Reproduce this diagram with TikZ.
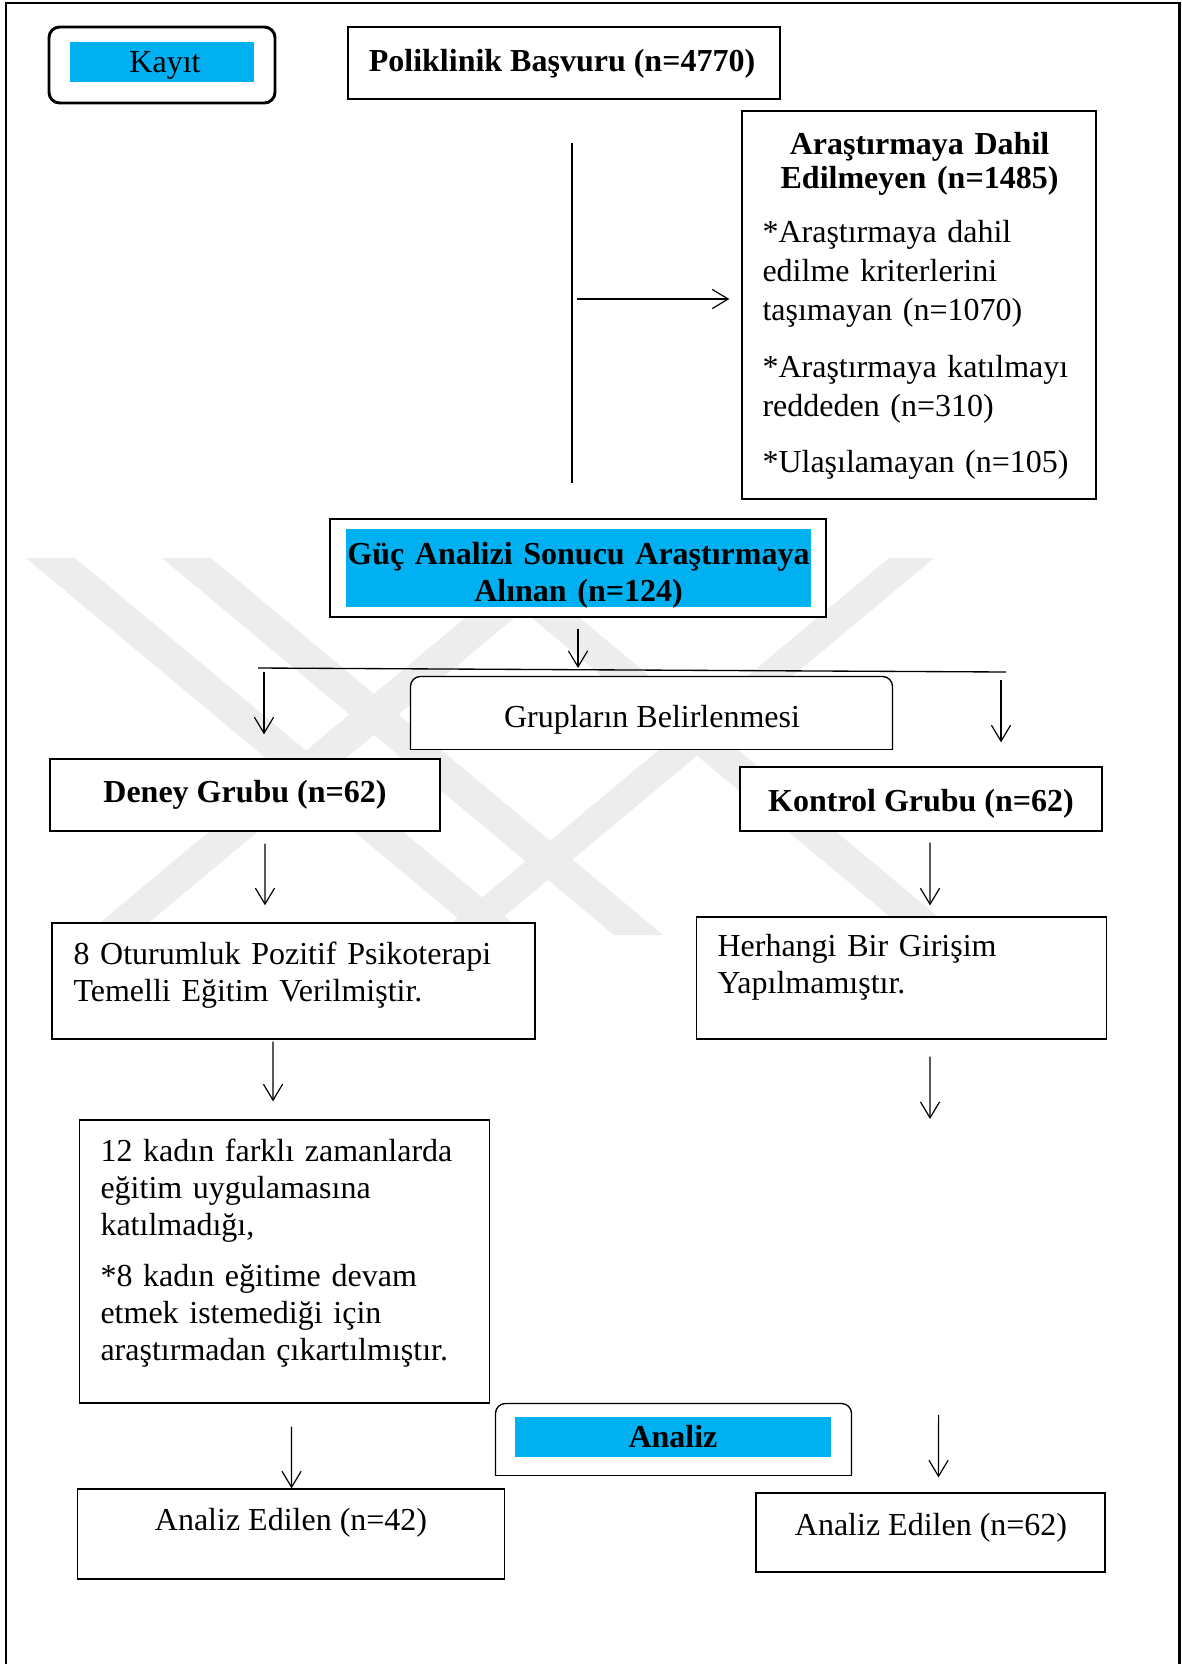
\documentclass[tikz,border=0pt]{standalone}
\usepackage{fontspec}
\setmainfont{Liberation Serif}
\usetikzlibrary{arrows.meta}
\definecolor{kutumavi}{HTML}{00B0F0}
\definecolor{filigran}{HTML}{EDEDED}
\tikzset{
  kutu/.style 2 args={draw, fill=white, line width=0.5pt, inner sep=0pt, minimum width=#1*0.375pt, minimum height=#2*0.375pt},
  bos/.style 2 args={inner sep=0pt, minimum width=#1*0.375pt, minimum height=#2*0.375pt},
  mavi/.style 2 args={fill=kutumavi, inner sep=0pt, minimum width=#1*0.375pt, minimum height=#2*0.375pt},
  yazi/.style={inner sep=0pt, font=\fontsize{12}{13.9}\selectfont},
  kalin/.style={inner sep=0pt, font=\fontsize{12}{13.9}\selectfont\bfseries},
  ok/.style={line width=0.45pt, -{Straight Barb[length=6pt,width=7.2pt]}},
  cizgi/.style={line width=0.5pt}
}

\begin{document}
\begin{tikzpicture}[x=0.375pt, y=-0.375pt]
   \useasboundingbox (0,0) rectangle (1182,1664);
   % filigran
   \fill[filigran] (26,558) -- (75,558) -- (527,935) -- (478,935) -- cycle;
   \fill[filigran] (162,558) -- (211,558) -- (663,935) -- (614,935) -- cycle;
   \fill[filigran] (537,558) -- (586,558) -- (134,935) -- (85,935) -- cycle;
   \fill[filigran] (460,558) -- (508,558) -- (960,935) -- (912,935) -- cycle;
   \fill[filigran] (889,558) -- (934,558) -- (482,935) -- (437,935) -- cycle;
   % cerceve
   \draw[line width=0.9pt] (6,1680) -- (6,3) -- (1179.5,3) -- (1179.5,1680);

   % kutular
   \node[kutu={226}{76}, line width=1.1pt, rounded corners=4pt] (kayitkutu) at (162,65) {};
   \node[mavi={184}{40}] (kayit) at (162,62) {};
   \node[kutu={432}{72}] (basvuru) at (564,63) {};
   \node[kutu={354}{388}] (edilmeyen) at (919,305) {};
   \node[kutu={496}{98}, line width=0.8pt] (gucbox) at (578,568) {};
   \node[mavi={465}{78}] (guc) at (578.5,568) {};
   \node[bos={481}{72}] (grup) at (651.5,713) {};
   \draw[cizgi, fill=white, rounded corners=3.75pt] (grup.south west) -- (grup.north west) -- (grup.north east) -- (grup.south east);
   \draw[cizgi] (grup.south west) -- (grup.south east);
   \node[kutu={390}{72}] (deney) at (245,795) {};
   \node[kutu={362}{64}] (kontrol) at (921,799) {};
   \node[kutu={483}{116}] (oturum) at (293.5,981) {};
   \node[kutu={410}{122}] (herhangi) at (901.6,978) {};
   \node[kutu={410}{283}] (ayrilan) at (284.8,1261.5) {};
   \node[bos={355}{71}] (analizkutu) at (673.5,1439.5) {};
   \draw[cizgi, fill=white, rounded corners=3.75pt] (analizkutu.south west) -- (analizkutu.north west) -- (analizkutu.north east) -- (analizkutu.south east);
   \draw[cizgi] (analizkutu.south west) -- (analizkutu.south east);
   \node[mavi={316}{40}] (analiz) at (673,1437) {};
   \node[kutu={427}{90}] (sonuc1) at (291,1534) {};
   \node[kutu={349}{79}] (sonuc2) at (930.5,1532.5) {};

   % yazilar
   \node[yazi, anchor=base] (kayityazi) at (165,72) {Kayıt};
   \node[kalin, anchor=base] (basvuruyazi) at (562,71) {Poliklinik Başvuru (n=4770)};
   \node[yazi, anchor=base west, text width=117.75pt, font=\fontsize{12}{14.7}\selectfont] (edilmeyenyazi) at (762,154)
     {{\centering\bfseries\fontsize{12}{13.1}\selectfont Araştırmaya Dahil\\Edilmeyen (n=1485)\par}\vspace{5.2pt}
      *Araştırmaya dahil\\edilme kriterlerini\\taşımayan (n=1070)\par\vspace{6.8pt}
      *Araştırmaya katılmayı\\reddeden (n=310)\par\vspace{6.3pt}
      *Ulaşılamayan (n=105)};
   \node[kalin, anchor=base, text width=176pt, align=center] (gucyazi) at (578.5,564) {Güç Analizi Sonucu Araştırmaya\\Alınan (n=124)};
   \node[yazi, anchor=base] (grupyazi) at (652,727) {Grupların Belirlenmesi};
   \node[kalin, anchor=base] (deneyyazi) at (245,802) {Deney Grubu (n=62)};
   \node[kalin, anchor=base] (kontrolyazi) at (921,811) {Kontrol Grubu (n=62)};
   \node[yazi, anchor=base west, text width=165pt] (oturumyazi) at (73,964) {8 Oturumluk Pozitif Psikoterapi\\Temelli Eğitim Verilmiştir.};
   \node[yazi, anchor=base west, text width=140pt] (herhangiyazi) at (717,956) {Herhangi Bir Girişim\\Yapılmamıştır.};
   \node[yazi, anchor=base west, text width=145pt] (ayrilanyazi) at (100,1161)
     {12 kadın farklı zamanlarda\\eğitim uygulamasına\\katılmadığı,\par\vspace{5.2pt}
      *8 kadın eğitime devam\\etmek istemediği için\\araştırmadan çıkartılmıştır.};
   \node[kalin, anchor=base] (analizyazi) at (673,1447) {Analiz};
   \node[yazi, anchor=base] (sonuc1yazi) at (291,1530) {Analiz Edilen (n=42)};
   \node[yazi, anchor=base] (sonuc2yazi) at (931,1535) {Analiz Edilen (n=62)};

   % baglantilar
   \coordinate (dikust) at (572,143);
   \coordinate (dikalt) at (572,483);
   \coordinate (okbas) at (577,299);
   \coordinate (yatsol) at (258,668);
   \coordinate (yatsag) at (1006,672);
   \coordinate (solok) at (264,672);
   \coordinate (sagok) at (1001,680);
   \coordinate (herhangiucu) at (930,1119);
   \coordinate (analizok) at (938.6,1415);
   \draw[cizgi] (dikust) -- (dikalt);
   \draw[ok, shorten >=4.5pt] (okbas) -- (okbas -| edilmeyen.west);
   \draw[ok, shorten <=4pt] (gucbox.south) -- (gucbox.south |- yatsol);
   \draw[cizgi] (yatsol) -- (yatsag);
   \draw[ok, shorten >=9pt] (solok) -- (solok |- deney.north);
   \draw[ok, shorten >=9pt] (sagok) -- (sagok |- kontrol.north);
   \draw[ok, shorten <=4.5pt, shorten >=6.4pt] ([xshift=7.5pt]deney.south) -- ([xshift=-10.7pt]oturum.north);
   \draw[ok, shorten <=4.1pt, shorten >=4.1pt] ([xshift=3.4pt]kontrol.south) -- ([xshift=10.65pt]herhangi.north);
   \draw[ok, shorten <=0.75pt, shorten >=6.75pt] ([xshift=-7.7pt]oturum.south) -- ([xshift=-4.4pt]ayrilan.north);
   \draw[ok, shorten <=6.4pt] ([xshift=10.65pt]herhangi.south) -- (herhangiucu);
   \draw[ok, shorten <=8.6pt] ([xshift=2.55pt]ayrilan.south) -- ([xshift=0.2pt]sonuc1.north);
   \draw[ok, shorten >=5.6pt] (analizok) -- ([xshift=3pt]sonuc2.north);
\end{tikzpicture}
\end{document}
